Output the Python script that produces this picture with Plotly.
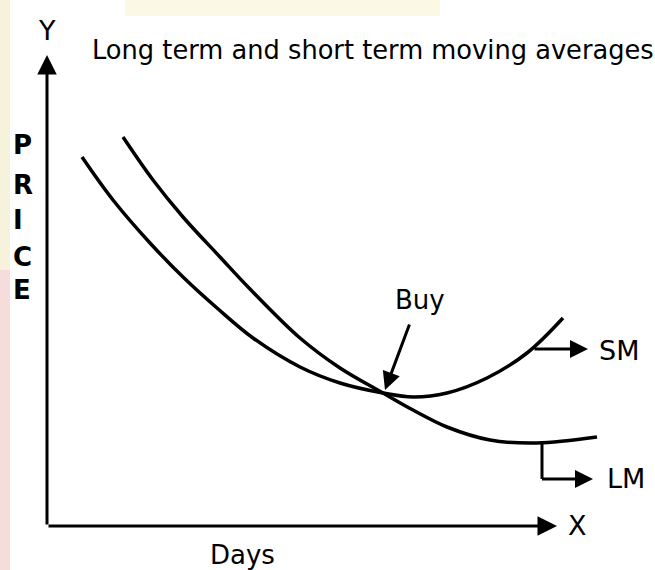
import plotly.graph_objects as go

# ---- data (x = days, y = price; arbitrary units) ----
sm_days = [3.5, 6.6, 10.3, 13.6, 17.0, 20.6, 25.3, 29.3, 33.6, 36.6, 40.0, 44.0, 48.0, 51.6]
sm_price = [36.9, 32.6, 28.3, 24.9, 21.8, 18.8, 15.9, 14.3, 13.3, 12.9, 13.3, 14.8, 17.3, 20.8]

lm_days = [7.6, 10.6, 13.6, 17.3, 20.3, 25.3, 29.3, 33.6, 36.6, 40.0, 44.3, 49.0, 55.0]
lm_price = [38.9, 34.6, 30.9, 26.9, 23.7, 18.8, 15.8, 13.3, 11.6, 9.9, 8.6, 8.3, 8.9]

buy_point = (33.8, 13.6)
title_text = "Long term and short term moving averages"
y_letters = ["P", "R", "I", "C", "E"]
y_letter_pos = [38.1, 34.1, 30.6, 26.9, 23.6]

FONT = "DejaVu Sans"
INK = "#000000"

fig = go.Figure()

for xs, ys in ((sm_days, sm_price), (lm_days, lm_price)):
    fig.add_trace(go.Scatter(x=xs, y=ys, mode="lines",
                             line=dict(color=INK, width=3.5, shape="spline", smoothing=1.0),
                             hoverinfo="skip", showlegend=False))

ann = []
def arrow(x, y, ax, ay, size=1.2):
    ann.append(dict(x=x, y=y, ax=ax, ay=ay, xref="x", yref="y", axref="x", ayref="y",
                    showarrow=True, arrowhead=2, arrowsize=size, arrowwidth=3,
                    arrowcolor=INK, standoff=0, startstandoff=0, text=""))

def label(x, y, t, size, xanchor="center", yanchor="middle", bold=False):
    ann.append(dict(x=x, y=y, xref="x", yref="y", text=f"<b>{t}</b>" if bold else t,
                    showarrow=False, xanchor=xanchor, yanchor=yanchor,
                    font=dict(family=FONT, size=size, color=INK)))

# axes with arrows
arrow(0, 47.1, 0, 0, 1.3)
arrow(51.0, 0, 0, 0, 1.3)
# buy arrow
arrow(buy_point[0], buy_point[1], 36.3, 20.3)
# SM marker
arrow(54.1, 17.7, 48.6, 17.7)
# LM marker (vertical leg + arrow)
fig.add_shape(type="line", x0=49.5, y0=8.3, x1=49.5, y1=4.7, xref="x", yref="y",
              line=dict(color=INK, width=3))
arrow(54.6, 4.7, 49.35, 4.7)

label(4.3, 47.6, title_text, 25.7, xanchor="left")
label(0, 49.6, "Y", 27)
label(53.0, 0.1, "X", 27)
label(55.0, 17.6, "SM", 27, xanchor="left")
label(55.8, 4.8, "LM", 27, xanchor="left")
label(37.3, 22.6, "Buy", 26)
label(19.5, -2.9, "Days", 26)
for t, yy in zip(y_letters, y_letter_pos):
    label(-3.6, yy, t, 26, xanchor="left", bold=True)

# faint scan tint at the page edge
shapes_bg = [
    dict(type="rect", xref="paper", yref="paper", x0=0, x1=10/655, y0=0, y1=300/570,
         fillcolor="#f7dcdc", line=dict(width=0), layer="below"),
    dict(type="rect", xref="paper", yref="paper", x0=0, x1=10/655, y0=300/570, y1=1,
         fillcolor="#f6f2dc", line=dict(width=0), layer="below"),
    dict(type="rect", xref="paper", yref="paper", x0=125/655, x1=440/655, y0=554/570, y1=1,
         fillcolor="#fbf8e6", line=dict(width=0), layer="below"),
]
for s in shapes_bg:
    fig.add_shape(**s)

fig.update_layout(
    width=655, height=570,
    margin=dict(l=0, r=0, t=0, b=0),
    paper_bgcolor="white", plot_bgcolor="rgba(0,0,0,0)",
    annotations=ann,
    xaxis=dict(range=[-4.7, 60.8], visible=False, fixedrange=True),
    yaxis=dict(range=[-4.4, 52.6], visible=False, fixedrange=True),
    showlegend=False,
)

fig.write_html("out.html", config={"displayModeBar": False, "staticPlot": True},
               post_script="document.body.style.margin='0';document.body.style.overflow='hidden';")
